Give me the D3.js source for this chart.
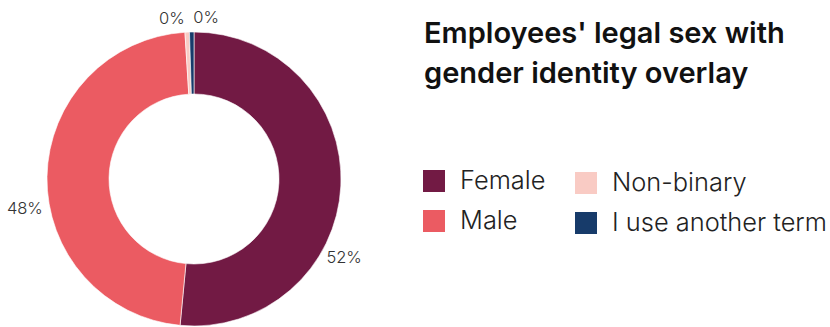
<!DOCTYPE html>
<html>
<head>
<meta charset="utf-8">
<script src="https://cdn.jsdelivr.net/npm/d3@7"></script>
<style>
  html, body { margin: 0; padding: 0; background: #fff; }
  svg { display: block; font-family: Inter, "Noto Sans", sans-serif; }
</style>
</head>
<body>
<svg id="chart" width="830" height="327"></svg>
<script>
// Share of employees by legal sex, with gender identity overlay (percent)
const categories = ["Female", "Male", "Non-binary", "I use another term"];
const values = [51.5, 47.5, 0.49, 0.49];
const colors = ["#721a44", "#eb5b62", "#f9cbc4", "#173b6a"];
// Legend order: two columns
const legendColumns = [["Female", "Male"], ["Non-binary", "I use another term"]];
const titleLines = ["Employees' legal sex with", "gender identity overlay"];
// Label nudges (degrees) so the small slice labels do not collide
const labelNudge = [28, -12, -5.6, 5.4];

const svg = d3.select("#chart");

// scale a text's font size so that it spans the given width
function fitWidth(sel, width) {
  const node = sel.node();
  const fs = parseFloat(sel.attr("font-size"));
  const w = node.getComputedTextLength();
  return fs * width / w;
}

const cx = 194, cy = 179, outerR = 147, innerR = 85;

const data = categories.map((c, i) => ({ name: c, value: values[i], color: colors[i], nudge: labelNudge[i] }));

const pie = d3.pie().sort(null).value(d => d.value);
const arc = d3.arc().innerRadius(innerR).outerRadius(outerR);
const arcs = pie(data);

const g = svg.append("g").attr("transform", `translate(${cx},${cy})`);

g.selectAll("path.slice")
  .data(arcs)
  .join("path")
  .attr("class", "slice")
  .attr("d", arc)
  .attr("fill", d => d.data.color)
  .attr("stroke", "#fff")
  .attr("stroke-width", 0.6);

// Percentage labels just outside the ring
const labelR = outerR + 7;
const pct = g.selectAll("text.pct")
  .data(arcs)
  .join("text")
  .attr("class", "pct")
  .attr("font-size", 16)
  .attr("font-weight", 300)
  .attr("fill", "#333")
  .text(d => Math.round(d.data.value) + "%");
const pctSize = fitWidth(pct.filter((d, i) => i === 1), 36);
pct.attr("font-size", pctSize)
  .each(function (d) {
    const a = (d.startAngle + d.endAngle) / 2 + d.data.nudge * Math.PI / 180;
    const s = Math.sin(a), c = Math.cos(a);
    const t = d3.select(this)
      .attr("x", s * labelR)
      .attr("y", -c * labelR)
      .attr("text-anchor", Math.abs(s) < 0.3 ? "middle" : (s > 0 ? "start" : "end"));
    t.attr("dy", c > 0.7 ? "-0.15em" : (c < -0.7 ? "0.9em" : "0.35em"));
  });

// Title
const title = svg.append("text")
  .attr("x", 424)
  .attr("font-size", 26)
  .attr("font-weight", 600)
  .attr("fill", "#111");
title.selectAll("tspan")
  .data(titleLines)
  .join("tspan")
  .attr("x", 424)
  .attr("y", (d, i) => 43 + i * 40)
  .text(d => d);
{
  const first = title.select("tspan");
  const w = first.node().getComputedTextLength();
  title.attr("font-size", 26 * 361 / w);
}

// Legend
const colorOf = d3.scaleOrdinal().domain(categories).range(colors);
const colX = [423, 575];
const colY = [170, 172];
const rowStep = 40;
let legendTexts = [];
legendColumns.forEach((col, ci) => {
  const lg = svg.append("g").attr("transform", `translate(${colX[ci]},${colY[ci]})`);
  const item = lg.selectAll("g.item")
    .data(col)
    .join("g")
    .attr("class", "item")
    .attr("transform", (d, i) => `translate(0,${i * rowStep})`);
  item.append("rect")
    .attr("width", 22)
    .attr("height", 22)
    .attr("fill", d => colorOf(d));
  legendTexts.push(item.append("text")
    .attr("x", 37)
    .attr("y", 19)
    .attr("font-size", 22)
    .attr("font-weight", 300)
    .attr("fill", "#222")
    .text(d => d));
});
{
  const longest = legendTexts[1].filter(d => d === "I use another term");
  const fs = fitWidth(longest, 215);
  legendTexts.forEach(t => t.attr("font-size", fs));
}
</script>
</body>
</html>
